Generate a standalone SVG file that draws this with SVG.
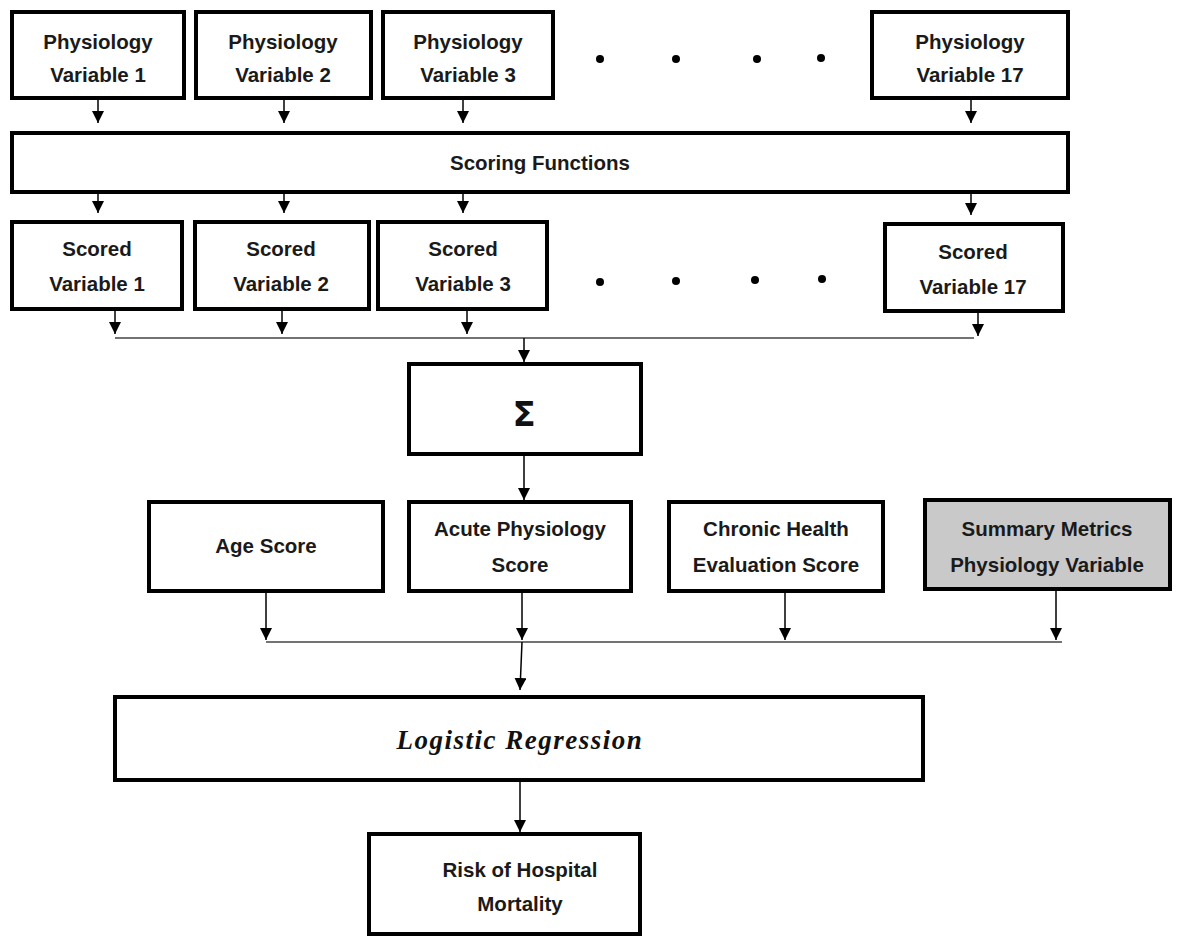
<svg xmlns="http://www.w3.org/2000/svg" width="1188" height="936" viewBox="0 0 1188 936">
<defs>
<marker id="ah" viewBox="0 0 12 12" refX="12" refY="6" markerWidth="12" markerHeight="12" markerUnits="userSpaceOnUse" orient="auto">
<path d="M0,0 L12,6 L0,12 Z" fill="#000"/>
</marker>
</defs>
<style>
.box{fill:#fff;stroke:#000;stroke-width:4}
.gray{fill:#c9c9c9}
.t{font-family:"Liberation Sans",Arial,sans-serif;font-weight:bold;font-size:20.5px;fill:#1a1a1a;text-anchor:middle}
.c{stroke:#000;stroke-width:1.5;fill:none}
.a{marker-end:url(#ah)}
.h{stroke:#444;stroke-width:1.5;fill:none}
.dot{fill:#000}
</style>
<rect width="1188" height="936" fill="#fff"/>
<g id="pv1"><rect class="box" x="12" y="12" width="172" height="86"/><text class="t" x="98" y="49">Physiology</text><text class="t" x="98" y="82">Variable 1</text></g>
<g id="pv2"><rect class="box" x="196" y="12" width="175" height="86"/><text class="t" x="283" y="49">Physiology</text><text class="t" x="283" y="82">Variable 2</text></g>
<g id="pv3"><rect class="box" x="383" y="12" width="170" height="86"/><text class="t" x="468" y="49">Physiology</text><text class="t" x="468" y="82">Variable 3</text></g>
<g id="pv17"><rect class="box" x="872" y="12" width="196" height="86"/><text class="t" x="970" y="49">Physiology</text><text class="t" x="970" y="82">Variable 17</text></g>
<g id="dots1"><circle class="dot" cx="600" cy="59" r="4"/><circle class="dot" cx="676" cy="59" r="4"/><circle class="dot" cx="757" cy="59" r="4"/><circle class="dot" cx="821" cy="58" r="4"/></g>
<g id="scoring"><rect class="box" x="12" y="133" width="1056" height="59"/><text class="t" x="540" y="170">Scoring Functions</text></g>
<g id="sv1"><rect class="box" x="12" y="222" width="170" height="87"/><text class="t" x="97" y="256">Scored</text><text class="t" x="97" y="291">Variable 1</text></g>
<g id="sv2"><rect class="box" x="195" y="222" width="174" height="87"/><text class="t" x="281" y="256">Scored</text><text class="t" x="281" y="291">Variable 2</text></g>
<g id="sv3"><rect class="box" x="378" y="222" width="169" height="87"/><text class="t" x="463" y="256">Scored</text><text class="t" x="463" y="291">Variable 3</text></g>
<g id="sv17"><rect class="box" x="885" y="224" width="178" height="87"/><text class="t" x="973" y="259">Scored</text><text class="t" x="973" y="294">Variable 17</text></g>
<g id="dots2"><circle class="dot" cx="600" cy="282" r="4"/><circle class="dot" cx="676" cy="281" r="4"/><circle class="dot" cx="755" cy="280" r="4"/><circle class="dot" cx="822" cy="279" r="4"/></g>
<g id="sum"><rect class="box" x="409" y="364" width="232" height="90"/><text x="524" y="426" text-anchor="middle" font-family="'DejaVu Sans',sans-serif" font-weight="bold" font-size="34" fill="#111">Σ</text></g>
<g id="age"><rect class="box" x="149" y="502" width="234" height="89"/><text class="t" x="266" y="553">Age Score</text></g>
<g id="aps"><rect class="box" x="409" y="502" width="222" height="89"/><text class="t" x="520" y="536">Acute Physiology</text><text class="t" x="520" y="572">Score</text></g>
<g id="chronic"><rect class="box" x="669" y="502" width="214" height="89"/><text class="t" x="776" y="536">Chronic Health</text><text class="t" x="776" y="572">Evaluation Score</text></g>
<g id="summary"><rect class="box gray" x="925" y="500" width="245" height="89"/><text class="t" x="1047" y="536">Summary Metrics</text><text class="t" x="1047" y="572">Physiology Variable</text></g>
<g id="logistic"><rect class="box" x="115" y="697" width="808" height="83"/><text x="520" y="749" text-anchor="middle" font-family="'Liberation Serif','Times New Roman',serif" font-style="italic" font-weight="bold" font-size="27" fill="#111" letter-spacing="1.5">Logistic Regression</text></g>
<g id="risk"><rect class="box" x="369" y="834" width="271" height="100"/><text class="t" x="520" y="877">Risk of Hospital</text><text class="t" x="520" y="911">Mortality</text></g>
<g id="connectors">
<line class="c a" x1="98" y1="98" x2="98" y2="123"/>
<line class="c a" x1="284" y1="98" x2="284" y2="123"/>
<line class="c a" x1="463" y1="98" x2="463" y2="123"/>
<line class="c a" x1="971" y1="98" x2="971" y2="123"/>
<line class="c a" x1="98" y1="192" x2="98" y2="213"/>
<line class="c a" x1="284" y1="192" x2="284" y2="213"/>
<line class="c a" x1="463" y1="192" x2="463" y2="213"/>
<line class="c a" x1="971" y1="192" x2="971" y2="215"/>
<line class="c a" x1="115" y1="309" x2="115" y2="334"/>
<line class="c a" x1="282" y1="309" x2="282" y2="334"/>
<line class="c a" x1="467" y1="309" x2="467" y2="334"/>
<line class="c a" x1="978" y1="311" x2="978" y2="336"/>
<line class="h" x1="115" y1="338" x2="974" y2="338"/>
<line class="c a" x1="524" y1="338" x2="524" y2="362"/>
<line class="c a" x1="524" y1="454" x2="524" y2="500"/>
<line class="c a" x1="266" y1="591" x2="266" y2="640"/>
<line class="c a" x1="522" y1="591" x2="522" y2="640"/>
<line class="c a" x1="785" y1="591" x2="785" y2="640"/>
<line class="c a" x1="1056" y1="589" x2="1056" y2="640"/>
<line class="h" x1="266" y1="642" x2="1062" y2="642"/>
<line class="c a" x1="522" y1="642" x2="520" y2="690"/>
<line class="c a" x1="520" y1="780" x2="520" y2="832"/>
</g>
</svg>
